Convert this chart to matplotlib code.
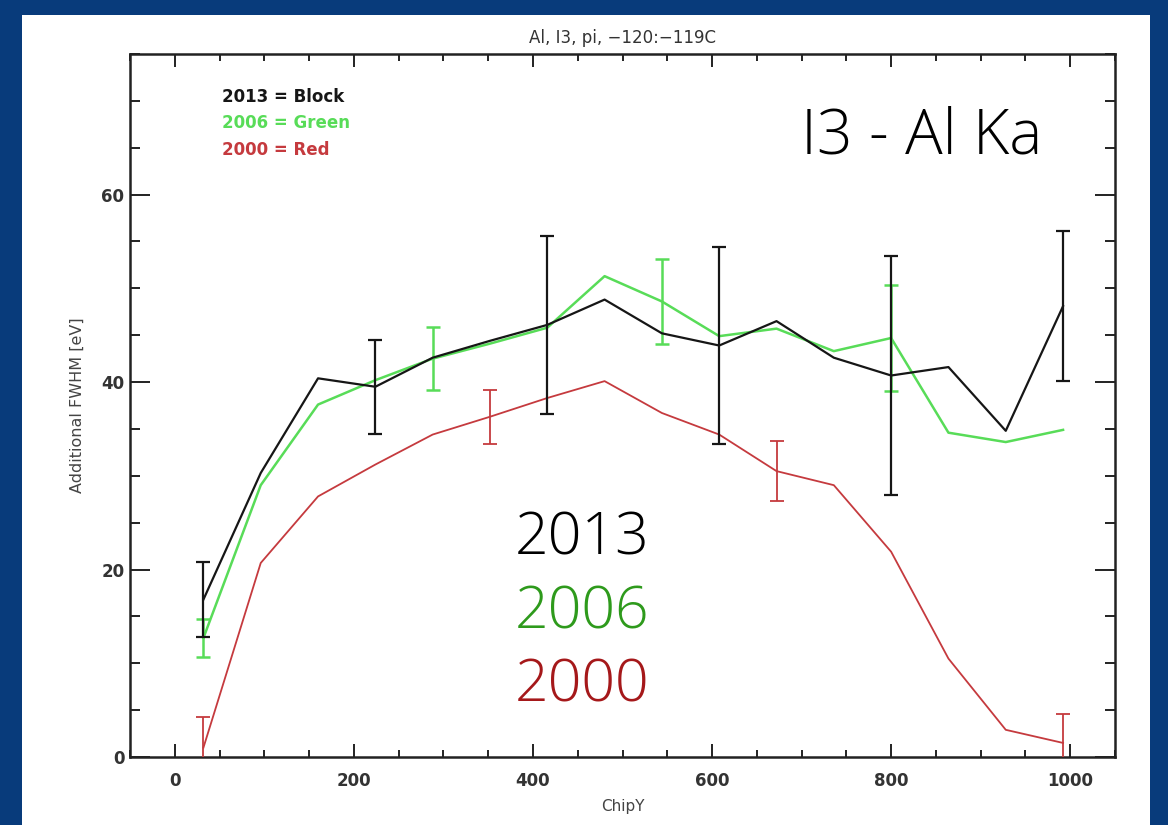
import matplotlib
matplotlib.use("Agg")
import matplotlib.pyplot as plt
from matplotlib.patches import Rectangle
from matplotlib.ticker import MultipleLocator

# ChipY bin centres and additional FWHM [eV] per year
chipy = [32, 96, 160, 224, 288, 352, 416, 480, 544, 608, 672, 736, 800, 864, 928, 992]
fwhm_2013 = [16.8, 30.3, 40.4, 39.5, 42.6, 44.4, 46.1, 48.8, 45.2, 43.9, 46.5, 42.6, 40.7, 41.6, 34.8, 48.1]
fwhm_2006 = [12.7, 29.0, 37.6, 40.2, 42.5, 44.1, 45.8, 51.3, 48.6, 44.9, 45.7, 43.3, 44.7, 34.6, 33.6, 34.9]
fwhm_2000 = [1.0, 20.7, 27.8, 31.2, 34.4, 36.3, 38.3, 40.1, 36.7, 34.4, 30.5, 29.0, 21.9, 10.5, 2.9, 1.5]

# error bars are only drawn on some bins
err_idx_2013 = [0, 3, 6, 9, 12, 15]
err_2013 = [4.0, 5.0, 9.5, 10.5, 12.8, 8.0]
err_idx_2006 = [0, 4, 8, 12]
err_2006 = [2.0, 3.35, 4.55, 5.7]
err_idx_2000 = [0, 5, 10, 15]
err_2000 = [3.3, 2.9, 3.2, 3.1]

legend_lines = ["2013 = Block", "2006 = Green", "2000 = Red"]
big_years = ["2013", "2006", "2000"]

C_BLACK = "#161616"
C_GREEN = "#58dc58"
C_RED = "#c53a3e"

plt.rcParams['font.family'] = ['DejaVu Sans']

fig = plt.figure(figsize=(11.68, 8.25), dpi=100)
fig.patch.set_facecolor("#083b7b")
fig.add_artist(Rectangle((22 / 1168, 0), (1150 - 22) / 1168, (825 - 15) / 825,
                         transform=fig.transFigure, facecolor="white", edgecolor="none", zorder=0))

ax = fig.add_axes([130 / 1168, 68 / 825, 985 / 1168, 703 / 825])
ax.set_facecolor("white")


def draw_series(y, idx, err, color, lw):
    ax.plot(chipy, y, color=color, lw=lw, zorder=3)
    ax.errorbar([chipy[i] for i in idx], [y[i] for i in idx], yerr=err, fmt="none",
                ecolor=color, elinewidth=lw, capsize=4.8, capthick=lw, zorder=3)


draw_series(fwhm_2000, err_idx_2000, err_2000, C_RED, 1.3)
draw_series(fwhm_2006, err_idx_2006, err_2006, C_GREEN, 1.8)
draw_series(fwhm_2013, err_idx_2013, err_2013, C_BLACK, 1.6)

ax.set_xlim(-50, 1050)
ax.set_ylim(0, 75)
ax.xaxis.set_major_locator(MultipleLocator(200))
ax.xaxis.set_minor_locator(MultipleLocator(50))
ax.yaxis.set_major_locator(MultipleLocator(20))
ax.yaxis.set_minor_locator(MultipleLocator(5))

for s in ax.spines.values():
    s.set_linewidth(1.8)
    s.set_color("#222222")

ax.tick_params(which="both", direction="in", top=True, right=True, width=1.4, colors="#222222")
ax.tick_params(axis="x", which="major", length=9.4, pad=11)
ax.tick_params(axis="x", which="minor", length=5)
ax.tick_params(axis="y", which="major", length=14.4, pad=4)
ax.tick_params(axis="y", which="minor", length=7.2)
for lab in ax.get_xticklabels() + ax.get_yticklabels():
    lab.set_fontsize(12)
    lab.set_fontweight("bold")
    lab.set_color("#333333")

ax.set_title("Al, I3, pi, \u2212120:\u2212119C", fontsize=12, color="#333333", pad=8)
ax.set_xlabel("ChipY", fontsize=11, color="#444444", labelpad=6)
ax.set_ylabel("Additional FWHM [eV]", fontsize=11.5, color="#444444", labelpad=12)

# small IDL-style legend text
for txt, col, yv in zip(legend_lines, [C_BLACK, C_GREEN, C_RED], [69.9, 67.1, 64.2]):
    ax.text(53, yv, txt, color=col, fontsize=12, fontweight="bold", va="baseline", ha="left")

# big annotation text
big_font = dict(family=["Open Sans", "DejaVu Sans"], fontweight="light")
ax.text(969, 64.4, "I3 - Al Ka", fontsize=45, color="black", ha="right", va="baseline", **big_font)
for txt, col, yv in zip(big_years, ["#000000", "#2e9a1c", "#a5181a"], [21.6, 13.7, 5.9]):
    ax.text(380, yv, txt, fontsize=42.5, color=col, ha="left", va="baseline", **big_font)

fig.savefig("out.png", dpi=100)
